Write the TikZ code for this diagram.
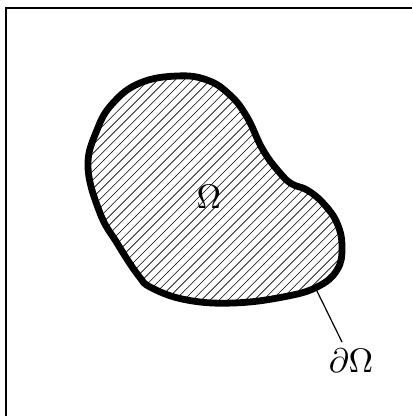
\documentclass[tikz,border=0pt]{standalone}
\begin{document}
\begin{tikzpicture}[x=1pt,y=-1pt,
  blobline/.style={line width=6.8pt,line join=round},
  hatchline/.style={line width=0.6pt},
  leader/.style={line width=1.2pt},
  lbl/.style={inner sep=0pt}]
\useasboundingbox (0,0) rectangle (412,416);
\begin{scope}
\clip (0,0) rectangle (412,416);
\draw[line width=1.6pt] (6,8) rectangle (430,430);
\end{scope}
\def\blobpath{plot[smooth cycle,tension=0.7] coordinates {
 (177,76) (207,80) (230,95) (247,117) (263,150) (280,173) (292,184)
 (307,190) (323,203) (337,223) (342,247) (337,270) (317,287)
 (283,297) (233,303) (187,300) (152,288) (138,275) (117,243)
 (100,213) (88,167) (97,130) (113,103) (140,83)}}
\begin{scope}
\clip \blobpath;
\foreach \i in {-10,...,100} {
  \draw[hatchline] (\i*8.8-400,400) -- (\i*8.8,0);
}
\end{scope}
\draw[blobline] \blobpath;
\node[lbl] (om) at (209,197) {\scalebox{3.4}{$\Omega$}};
\node[lbl] (bd) at (351,361) {\scalebox{3.4}{$\partial\Omega$}};
\coordinate (p) at (315,287);
\coordinate (q) at (342,342);
\draw[leader] (p) -- (q);
\end{tikzpicture}
\end{document}
